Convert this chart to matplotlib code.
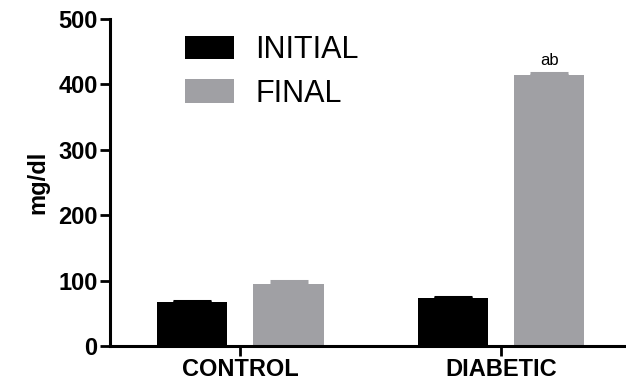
import numpy as np
import matplotlib
matplotlib.use('Agg')
import matplotlib.pyplot as plt

groups = ['CONTROL', 'DIABETIC']
series = ['INITIAL', 'FINAL']
initial = [67, 73]
initial_err = [2, 2]
final = [95, 414]
final_err = [5, 4]
labels_final = ['', 'ab']

colors = ['#000000', '#a0a0a4']

plt.rcParams['font.family'] = ['Liberation Sans', 'DejaVu Sans']

fig = plt.figure(figsize=(6.26, 3.83), dpi=100)
ax = fig.add_axes([0.176, 0.097, 0.824, 0.853])

x = np.arange(len(groups))
width = 0.27
offset = 0.185

for vals, errs, col, name, sign in [(initial, initial_err, colors[0], series[0], -1),
                                     (final, final_err, colors[1], series[1], 1)]:
    pos = x + sign * offset
    ax.bar(pos, vals, width, color=col, label=name, zorder=2)
    ax.errorbar(pos, vals, yerr=[np.zeros(len(errs)), errs], fmt='none',
                ecolor=col, elinewidth=2.5, capsize=13.5, capthick=2.2, zorder=3)

for i, t in enumerate(labels_final):
    if t:
        ax.text(x[i] + offset, final[i] + final_err[i] + 8, t, ha='center', va='bottom',
                fontsize=12)

ax.set_xlim(-0.5, 1.48)
ax.set_ylim(0, 500)
ax.set_yticks([0, 100, 200, 300, 400, 500])
ax.set_xticks(x)
ax.set_xticklabels(groups)
ax.set_ylabel('mg/dl', fontsize=17, fontweight='bold', labelpad=6)

for lab in ax.get_xticklabels() + ax.get_yticklabels():
    lab.set_fontweight('bold')
    lab.set_fontsize(17)

ax.spines['top'].set_visible(False)
ax.spines['right'].set_visible(False)
ax.spines['left'].set_linewidth(2.2)
ax.spines['bottom'].set_linewidth(2.2)
ax.tick_params(axis='both', width=2, length=7, pad=2)

ax.legend(loc='upper left', bbox_to_anchor=(0.091, 1.035), frameon=False, fontsize=22,
          handlelength=1.6, handleheight=0.82, handletextpad=0.72, labelspacing=0.45)

fig.savefig('out.png', dpi=100)
